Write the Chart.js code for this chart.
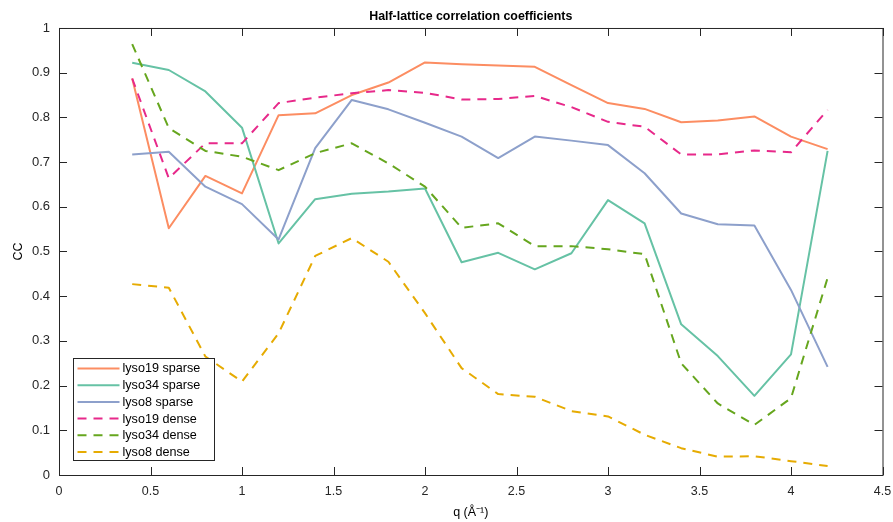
<!DOCTYPE html>
<html>
<head>
<meta charset="utf-8">
<script src="https://cdn.jsdelivr.net/npm/chart.js@4.4.1/dist/chart.umd.min.js"></script>
<style>
  html, body { margin: 0; padding: 0; background: #fff; }
  #wrap { width: 893px; height: 522px; }
</style>
</head>
<body>
<div id="wrap"><canvas id="ccChart" width="893" height="522"></canvas></div>
<script>
// q values (Å^-1)
const qValues = [0.4, 0.6, 0.8, 1.0, 1.2, 1.4, 1.6, 1.8, 2.0, 2.2, 2.4, 2.6, 2.8, 3.0, 3.2, 3.4, 3.6, 3.8, 4.0, 4.2];

// half-lattice CC per sample
const lyso19Sparse = [0.887, 0.552, 0.669, 0.630, 0.805, 0.809, 0.850, 0.878, 0.923, 0.919, 0.916, 0.913, 0.872, 0.832, 0.819, 0.789, 0.793, 0.802, 0.757, 0.729];
const lyso34Sparse = [0.922, 0.906, 0.858, 0.777, 0.518, 0.617, 0.629, 0.634, 0.641, 0.476, 0.497, 0.460, 0.496, 0.615, 0.563, 0.337, 0.266, 0.177, 0.270, 0.725];
const lyso8Sparse = [0.717, 0.723, 0.645, 0.606, 0.527, 0.731, 0.839, 0.818, 0.788, 0.757, 0.709, 0.757, 0.748, 0.738, 0.675, 0.585, 0.561, 0.558, 0.414, 0.242];
const lyso19Dense = [0.887, 0.664, 0.742, 0.742, 0.832, 0.844, 0.854, 0.861, 0.855, 0.840, 0.841, 0.848, 0.823, 0.790, 0.779, 0.717, 0.717, 0.726, 0.722, 0.817];
const lyso34Dense = [0.964, 0.776, 0.725, 0.712, 0.682, 0.720, 0.742, 0.697, 0.645, 0.553, 0.563, 0.512, 0.512, 0.505, 0.494, 0.250, 0.160, 0.112, 0.172, 0.441];
const lyso8Dense = [0.427, 0.419, 0.265, 0.209, 0.317, 0.490, 0.530, 0.477, 0.362, 0.239, 0.181, 0.175, 0.143, 0.131, 0.090, 0.060, 0.041, 0.042, 0.031, 0.020];

const seriesNames = ["lyso19 sparse", "lyso34 sparse", "lyso8 sparse", "lyso19 dense", "lyso34 dense", "lyso8 dense"];

// axis ticks
const xTicks = [0, 0.5, 1, 1.5, 2, 2.5, 3, 3.5, 4, 4.5];
const xTickLabels = ["0", "0.5", "1", "1.5", "2", "2.5", "3", "3.5", "4", "4.5"];
const yTicks = [0, 0.1, 0.2, 0.3, 0.4, 0.5, 0.6, 0.7, 0.8, 0.9, 1];
const yTickLabels = ["0", "0.1", "0.2", "0.3", "0.4", "0.5", "0.6", "0.7", "0.8", "0.9", "1"];

const FONT = '"Liberation Sans", Arial, Helvetica, sans-serif';
const AXIS_COLOR = "#262626";

function toPoints(arr) {
  return qValues.map((q, i) => ({ x: q, y: arr[i] }));
}

// box around the plot + inward ticks (matlab style)
const axesBox = {
  id: "axesBox",
  afterDatasetsDraw(chart) {
    const { ctx, chartArea: a, scales } = chart;
    const len = 8;
    ctx.save();
    ctx.strokeStyle = AXIS_COLOR;
    ctx.lineWidth = 1;
    ctx.strokeRect(a.left + 0.5, a.top + 0.5, a.right - a.left, a.bottom - a.top);
    ctx.beginPath();
    scales.x.ticks.forEach((t) => {
      const px = Math.round(scales.x.getPixelForValue(t.value)) + 0.5;
      ctx.moveTo(px, a.bottom);
      ctx.lineTo(px, a.bottom - len);
      ctx.moveTo(px, a.top);
      ctx.lineTo(px, a.top + len);
    });
    scales.y.ticks.forEach((t) => {
      const py = Math.round(scales.y.getPixelForValue(t.value)) + 0.5;
      ctx.moveTo(a.left, py);
      ctx.lineTo(a.left + len, py);
      ctx.moveTo(a.right, py);
      ctx.lineTo(a.right - len, py);
    });
    ctx.stroke();
    ctx.restore();
  },
};

// legend in the lower-left corner of the plot
const boxLegend = {
  id: "boxLegend",
  afterDraw(chart) {
    const { ctx, chartArea: a } = chart;
    const w = 141;
    const h = 102;
    const left = Math.round(a.left + 14) + 0.5;
    const top = Math.round(a.bottom - 15 - h) + 0.5;
    const rowH = 16.7;
    ctx.save();
    ctx.fillStyle = "#fff";
    ctx.fillRect(left, top, w, h);
    ctx.strokeStyle = AXIS_COLOR;
    ctx.lineWidth = 1;
    ctx.strokeRect(left, top, w, h);
    ctx.font = "12.6px " + FONT;
    ctx.textBaseline = "middle";
    chart.data.datasets.forEach((ds, i) => {
      const y = top + 10 + i * rowH;
      ctx.strokeStyle = ds.borderColor;
      ctx.lineWidth = 2;
      ctx.setLineDash(ds.borderDash || []);
      ctx.beginPath();
      ctx.moveTo(left + 4, y);
      ctx.lineTo(left + 46, y);
      ctx.stroke();
      ctx.setLineDash([]);
      ctx.fillStyle = "#000";
      ctx.fillText(ds.label, left + 49, y + 0.5);
    });
    ctx.restore();
  },
};

function makeSet(i, values, color, dashed) {
  return {
    label: seriesNames[i],
    data: toPoints(values),
    borderColor: color,
    backgroundColor: color,
    borderWidth: 2,
    borderDash: dashed ? [9, 7] : [],
    borderJoinStyle: "round",
    pointRadius: 0,
    tension: 0,
    fill: false,
    order: 6 - i,
  };
}

Chart.defaults.font.family = FONT;

const ctx = document.getElementById("ccChart").getContext("2d");
new Chart(ctx, {
  type: "line",
  data: {
    datasets: [
      makeSet(0, lyso19Sparse, "#fc8d62", false),
      makeSet(1, lyso34Sparse, "#66c2a5", false),
      makeSet(2, lyso8Sparse, "#8da0cb", false),
      makeSet(3, lyso19Dense, "#e7298a", true),
      makeSet(4, lyso34Dense, "#66a61e", true),
      makeSet(5, lyso8Dense, "#e6ab02", true),
    ],
  },
  options: {
    responsive: false,
    animation: false,
    devicePixelRatio: 1,
    layout: { padding: { left: 0, right: 10.5, top: 0, bottom: 0 } },
    plugins: {
      legend: { display: false },
      tooltip: { enabled: false },
      title: {
        display: true,
        text: "Half-lattice correlation coefficients",
        fullSize: false,
        color: "#000",
        font: { size: 12.4, weight: "bold" },
        padding: { top: 9, bottom: 4.1 },
      },
    },
    scales: {
      x: {
        type: "linear",
        min: 0,
        max: 4.5,
        afterBuildTicks: (scale) => {
          scale.ticks = xTicks.map((v) => ({ value: v }));
        },
        afterFit: (scale) => {
          scale.height = 47;
          scale.paddingLeft = 0;
          scale.paddingRight = 0;
        },
        ticks: {
          color: AXIS_COLOR,
          font: { size: 12.5 },
          padding: 9,
          maxRotation: 0,
          autoSkip: false,
          callback: (v, i) => xTickLabels[i],
        },
        grid: { display: false, drawTicks: false },
        border: { display: false },
        title: {
          display: true,
          text: "q (Å⁻¹)",
          color: "#000",
          font: { size: 12.5 },
          padding: { top: 0, bottom: 2 },
        },
      },
      y: {
        type: "linear",
        min: 0,
        max: 1,
        afterBuildTicks: (scale) => {
          scale.ticks = yTicks.map((v) => ({ value: v }));
        },
        afterFit: (scale) => {
          scale.width = 59;
          scale.paddingTop = 0;
          scale.paddingBottom = 0;
        },
        ticks: {
          color: AXIS_COLOR,
          font: { size: 13 },
          padding: 9,
          autoSkip: false,
          callback: (v, i) => yTickLabels[i],
        },
        grid: { display: false, drawTicks: false },
        border: { display: false },
        title: {
          display: true,
          text: "CC",
          color: "#000",
          font: { size: 12.5 },
          padding: { top: 11, bottom: 0 },
        },
      },
    },
  },
  plugins: [axesBox, boxLegend],
});
</script>
</body>
</html>
